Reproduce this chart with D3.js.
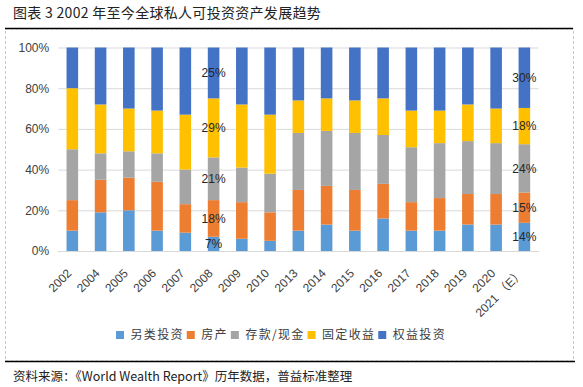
<!DOCTYPE html>
<html><head><meta charset="utf-8">
<script src="https://cdn.jsdelivr.net/npm/d3@7"></script>
<style>body{margin:0;background:#fff} svg{display:block}</style>
</head><body><svg id="c" width="583" height="387"></svg>
<script>
const categories = ["2002","2004","2005","2006","2007","2008","2009","2010","2013","2014","2015","2016","2017","2018","2019","2020","2021 （E）"];
const seriesNames = ["另类投资","房产","存款/现金","固定收益","权益投资"];
const altInvest   = [10,19,20,10, 9, 7, 6, 5,10,13,10,16,10,10,13,13,14];
const realEstate  = [15,16,16,24,14,18,18,14,20,19,20,17,14,16,15,15,15];
const cashDeposit = [25,13,13,14,17,21,17,19,28,27,28,24,27,27,26,25,24];
const fixedIncome = [30,24,21,21,27,29,31,29,16,16,16,18,18,16,18,17,18];
const equityInv   = [20,28,30,31,33,25,28,33,26,25,26,25,31,31,28,30,30];
const yTicks = [0,0.2,0.4,0.6,0.8,1];
const labelledCats = ["2008","2021 （E）"];
const colors = ["#5B9BD5","#ED7D31","#A5A5A5","#FFC000","#4472C4"];
const titleText = "图表 3 2002 年至今全球私人可投资资产发展趋势";
const sourceText = "资料来源：《World Wealth Report》历年数据，普益标准整理";

(function(){
const svg = d3.select("#c");
const cjk = "'Noto Sans CJK SC','Noto Sans',sans-serif";
const latin = "'Liberation Sans',Arial,sans-serif";

const seriesArrays = [altInvest, realEstate, cashDeposit, fixedIncome, equityInv];
const rows = categories.map((c,i)=>{
  const r = {cat:c};
  seriesNames.forEach((s,j)=> r[s] = seriesArrays[j][i]);
  return r;
});
const stacked = d3.stack().keys(seriesNames).offset(d3.stackOffsetExpand)(rows);

const pL = 58.2, pR = 538.5, pT = 47.5, pB = 251;
const x = d3.scaleBand().domain(categories).range([pL,pR]).paddingInner(0.59).paddingOuter(0.295);
const y = d3.scaleLinear().domain([0,1]).range([pB, pT]);

// frame
svg.append("rect").attr("x",5.5).attr("y",29).attr("width",568).attr("height",332)
  .attr("fill","none").attr("stroke","#c8c8c8").attr("stroke-dasharray","3,2");
svg.append("line").attr("x1",5).attr("x2",573).attr("y1",28.5).attr("y2",28.5).attr("stroke","#000").attr("stroke-width",1.5);
svg.append("line").attr("x1",5).attr("x2",575).attr("y1",361.5).attr("y2",361.5).attr("stroke","#000").attr("stroke-width",1.5);

svg.append("text").attr("x",13).attr("y",18).attr("font-family",cjk).attr("font-size",14)
  .attr("letter-spacing",0.3).attr("fill","#222").text(titleText);
svg.append("text").attr("x",13).attr("y",381).attr("font-family",cjk).attr("font-size",12.5)
  .attr("fill","#222").text(sourceText);

// y axis + grid
const yAxis = svg.append("g").attr("transform",`translate(${pL},0)`)
  .call(d3.axisLeft(y).tickValues(yTicks).tickFormat(d3.format(".0%")).tickSize(-(pR-pL)).tickPadding(9));
yAxis.select(".domain").remove();
yAxis.selectAll(".tick line").attr("stroke","#d9d9d9");
yAxis.selectAll(".tick text").attr("font-family",latin).attr("font-size",12).attr("fill","#404040");

// bars
svg.append("g").selectAll("g").data(stacked).join("g").attr("fill",(d,i)=>colors[i])
  .selectAll("rect").data(d=>d).join("rect")
  .attr("x",d=>x(d.data.cat)).attr("width",x.bandwidth())
  .attr("y",d=>y(d[1])).attr("height",d=>y(d[0])-y(d[1]));

// x axis line
svg.append("line").attr("x1",pL).attr("x2",pR).attr("y1",pB+0.5).attr("y2",pB+0.5).attr("stroke","#d9d9d9");

// x labels
svg.append("g").selectAll("text").data(categories).join("text")
  .attr("transform",d=>`translate(${x(d)+x.bandwidth()/2},274) rotate(-45)`)
  .attr("text-anchor","end").attr("font-family","'Liberation Sans','Noto Sans CJK SC',sans-serif")
  .attr("font-size",12).attr("fill","#404040").text(d=>d);

// data labels
const lab = svg.append("g");
stacked.forEach((s,j)=>{
  s.forEach((d,i)=>{
    if(!labelledCats.includes(d.data.cat)) return;
    lab.append("text").attr("x",x(d.data.cat)+x.bandwidth()/2).attr("y",(y(d[0])+y(d[1]))/2)
      .attr("dy","0.35em").attr("text-anchor","middle").attr("font-family",latin).attr("font-size",12)
      .attr("fill","#262626").text(seriesArrays[j][i]+"%");
  });
});

// legend
const lg = svg.append("g");
let lx = 0;
seriesNames.forEach((n,i)=>{
  const g = lg.append("g").attr("transform",`translate(${lx},0)`);
  g.append("rect").attr("x",0).attr("y",-4).attr("width",8).attr("height",8).attr("fill",colors[i]);
  const t = g.append("text").attr("x",14.5).attr("y",0).attr("dy","0.35em").attr("font-family",cjk)
    .attr("font-size",12).attr("letter-spacing",1.3).attr("fill","#404040").text(n);
  lx += 14.5 + t.node().getComputedTextLength() + 3;
});
const lw = lx - 3;
lg.attr("transform",`translate(${281 - lw/2},335)`);
})();
</script></body></html>
